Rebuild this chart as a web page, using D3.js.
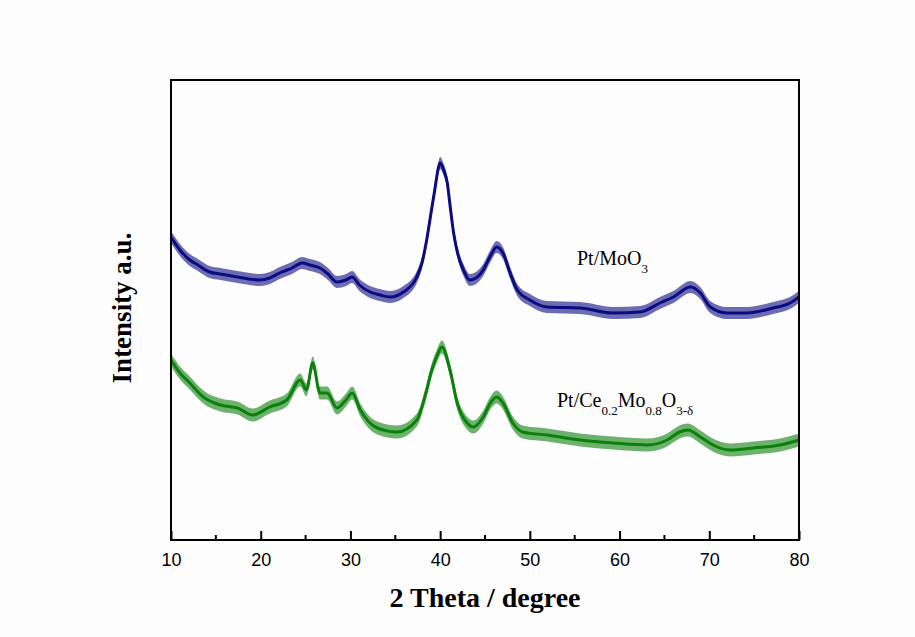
<!DOCTYPE html>
<html>
<head>
<meta charset="utf-8">
<script src="https://cdn.jsdelivr.net/npm/d3@7"></script>
<style>
  body { margin: 0; background: #fdfdfd; }
  svg { display: block; }
</style>
</head>
<body>
<div id="chart"></div>
<script>
// 2 theta positions and intensities (arbitrary units)
const moAngle = [10, 11, 12.1, 13, 14.3, 15.5, 17.4, 19.9, 21, 22.1, 23.5, 24.6, 25.5, 26.6, 27.5, 28.5, 29.5, 30.2, 31, 32.2, 33.3, 34.4, 35.9, 37.4, 38, 38.5, 39, 39.4, 39.8, 40, 40.4, 40.8, 41.1, 41.5, 42, 42.6, 43.3, 44, 44.8, 45.6, 46.3, 47, 47.8, 48.6, 50, 51.9, 55.6, 59.3, 62.3, 64.5, 66, 67.9, 69, 70.1, 72, 74.2, 77.1, 79, 80];
const moIntensity = [303, 290, 280, 275, 268, 266, 263, 260, 262, 267, 272, 277, 275, 272, 266, 258, 260, 263, 255, 248, 245, 243, 248, 263, 278, 300, 328, 350, 372, 377, 370, 357, 335, 307, 285, 270, 260, 262, 270, 284, 293, 287, 267, 250, 240, 233, 232, 227, 228, 237, 243, 253, 247, 233, 227, 227, 232, 237, 243];

const ceAngle = [10, 11, 12.1, 13.6, 15.5, 17.4, 19.1, 21, 22.9, 24.4, 25.1, 25.8, 26.6, 27.4, 28.5, 29.5, 30.2, 31.1, 33, 35.2, 37.4, 38.5, 39, 39.6, 40.2, 41.1, 41.9, 43, 43.7, 44.8, 45.6, 46.3, 47, 48.1, 49.2, 51.9, 55.6, 59.3, 63.1, 65.3, 66.7, 67.6, 69, 70.4, 72.3, 74.9, 77.9, 80];
const ceIntensity = [180, 167, 157, 143, 135, 132, 125, 133, 140, 160, 150, 177, 147, 147, 132, 140, 147, 130, 112, 108, 120, 150, 168, 183, 193, 170, 137, 117, 113, 123, 137, 143, 137, 117, 108, 105, 100, 97, 95, 100, 108, 110, 103, 95, 90, 92, 95, 100];

const xTicks = [10, 20, 30, 40, 50, 60, 70, 80];
const xMinorTicks = [15, 25, 35, 45, 55, 65, 75];

const width = 915, height = 637;
const margin = { top: 80, right: 116, bottom: 97, left: 171 };

const svg = d3.select('#chart').append('svg')
    .attr('width', width)
    .attr('height', height);

const x = d3.scaleLinear().domain([10, 80]).range([margin.left, width - margin.right]);
const y = d3.scaleLinear().domain([0, 460]).range([height - margin.bottom, margin.top]);

const series = [
    { angle: moAngle, intensity: moIntensity, color: '#0c0c82', noise: 6 },
    { angle: ceAngle, intensity: ceIntensity, color: '#0b800b', noise: 6.5 }
];

series.forEach(s => {
    const pts = s.angle.map((a, i) => [a, s.intensity[i]]);
    // noisy band around the trace
    svg.append('path')
        .datum(pts)
        .attr('fill', s.color)
        .attr('fill-opacity', 0.6)
        .attr('d', d3.area()
            .x(d => x(d[0]))
            .y0(d => y(d[1]) + s.noise)
            .y1(d => y(d[1]) - s.noise)
            .curve(d3.curveMonotoneX));
    svg.append('path')
        .datum(pts)
        .attr('fill', 'none')
        .attr('stroke', s.color)
        .attr('stroke-width', 3)
        .attr('d', d3.line()
            .x(d => x(d[0]))
            .y(d => y(d[1]))
            .curve(d3.curveMonotoneX));
});

// frame
svg.append('rect')
    .attr('x', margin.left)
    .attr('y', margin.top)
    .attr('width', width - margin.left - margin.right)
    .attr('height', height - margin.top - margin.bottom)
    .attr('fill', 'none')
    .attr('stroke', '#000')
    .attr('stroke-width', 2);

// bottom axis, ticks pointing inward
const xAxis = svg.append('g')
    .attr('transform', `translate(0,${height - margin.bottom})`)
    .call(d3.axisBottom(x).tickValues(xTicks).tickSizeInner(-9).tickSizeOuter(0).tickPadding(13));
xAxis.select('.domain').remove();
xAxis.selectAll('line').attr('stroke-width', 2);
xAxis.selectAll('text')
    .attr('font-family', '"Liberation Sans", Arial, sans-serif')
    .attr('font-size', 18)
    .attr('fill', '#000');

svg.append('g')
    .attr('transform', `translate(0,${height - margin.bottom})`)
    .selectAll('line')
    .data(xMinorTicks)
    .join('line')
    .attr('x1', d => x(d)).attr('x2', d => x(d))
    .attr('y1', 0).attr('y2', -5)
    .attr('stroke', '#000')
    .attr('stroke-width', 2);

// axis titles
const serif = '"Liberation Serif", "Times New Roman", serif';
svg.append('text')
    .attr('x', 485)
    .attr('y', 607)
    .attr('text-anchor', 'middle')
    .attr('font-family', serif)
    .attr('font-weight', 'bold')
    .attr('font-size', 28)
    .text('2 Theta / degree');

svg.append('text')
    .attr('transform', 'translate(131,308) rotate(-90)')
    .attr('text-anchor', 'middle')
    .attr('font-family', serif)
    .attr('font-weight', 'bold')
    .attr('font-size', 27)
    .text('Intensity a.u.');

// series labels
const lab1 = svg.append('text')
    .attr('x', 577).attr('y', 265)
    .attr('font-family', serif).attr('font-size', 20);
lab1.append('tspan').text('Pt/MoO');
lab1.append('tspan').attr('dy', 8).attr('font-size', 13).text('3');

const lab2 = svg.append('text')
    .attr('x', 557).attr('y', 407)
    .attr('font-family', serif).attr('font-size', 20);
lab2.append('tspan').text('Pt/Ce');
lab2.append('tspan').attr('dy', 8).attr('font-size', 13).text('0.2');
lab2.append('tspan').attr('dy', -8).text('Mo');
lab2.append('tspan').attr('dy', 8).attr('font-size', 13).text('0.8');
lab2.append('tspan').attr('dy', -8).text('O');
lab2.append('tspan').attr('dy', 8).attr('font-size', 13).text('3-δ');
</script>
</body>
</html>
